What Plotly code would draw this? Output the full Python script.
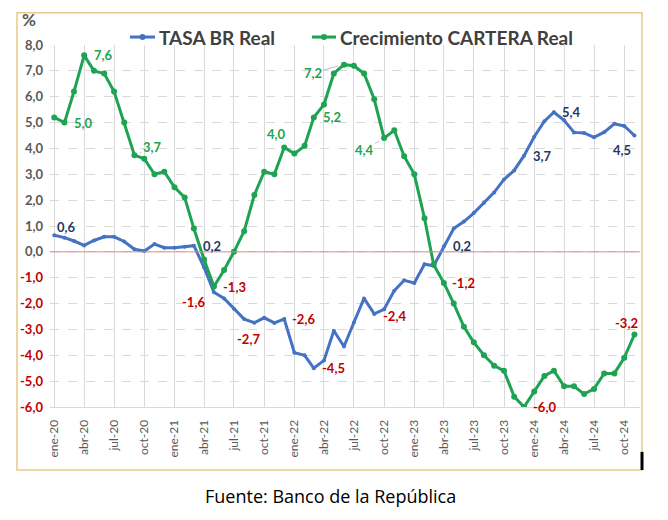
import pandas as pd
import plotly.graph_objects as go

# Datos mensuales ene-20 a nov-24
meses = pd.date_range("2020-01-01", periods=59, freq="MS")

tasa_br_real = [
    0.64, 0.55, 0.42, 0.25, 0.44, 0.58, 0.58, 0.40, 0.10, 0.03, 0.30, 0.16,
    0.16, 0.20, 0.24, -0.60, -1.56, -1.80, -2.20, -2.60, -2.74, -2.55, -2.75, -2.60,
    -3.90, -4.00, -4.50, -4.20, -3.05, -3.66, -2.73, -1.80, -2.40, -2.22, -1.50, -1.10,
    -1.20, -0.48, -0.54, 0.22, 0.90, 1.17, 1.50, 1.90, 2.30, 2.80, 3.15, 3.72,
    4.45, 5.05, 5.40, 5.09, 4.62, 4.60, 4.43, 4.63, 4.95, 4.87, 4.50,
]

cartera_real = [
    5.2, 5.0, 6.2, 7.6, 7.0, 6.9, 6.2, 5.0, 3.74, 3.6, 3.0, 3.1,
    2.5, 2.1, 0.9, -0.3, -1.34, -0.7, 0.0, 0.8, 2.2, 3.1, 3.0, 4.04,
    3.8, 4.1, 5.2, 5.7, 6.9, 7.24, 7.2, 6.9, 5.9, 4.4, 4.7, 3.7,
    3.0, 1.3, -0.5, -1.2, -2.0, -2.9, -3.5, -4.0, -4.4, -4.6, -5.6, -6.0,
    -5.4, -4.8, -4.6, -5.2, -5.2, -5.5, -5.3, -4.7, -4.7, -4.1, -3.2,
]

series_nombres = ["TASA BR Real", "Crecimiento CARTERA Real"]

nombres_mes = ["ene", "feb", "mar", "abr", "may", "jun", "jul", "ago", "sep", "oct", "nov", "dic"]
tick_fechas = meses[::3]
tick_textos = [f"{nombres_mes[d.month - 1]}-{d.strftime('%y')}" for d in tick_fechas]

y_ticks = list(range(-6, 9))

# etiquetas de datos: (indice, dx, dy, con linea guia)
etiquetas_br = [(0, 12, 8, False), (14, 18, 0, False), (16, -20, -10, False), (20, -6, -16, False),
                (23, 19, 0, False), (26, 20, 0, False), (32, 20, -2, False), (39, 18, 0, False),
                (47, 18, 0, False), (50, 18, 0, False), (58, -12, -14, False)]
etiquetas_cartera = [(1, 19, 0, False), (3, 19, 0, False), (8, 18, -8, True), (16, 21, 0, False),
                     (23, -8, 13, False), (26, 18, 0, False), (29, -31, 8, True), (33, -20, 12, True),
                     (39, 20, 0, False), (47, 20, 0, False), (58, -8, 12, False)]

AZUL = "#4472C4"
VERDE = "#1DA352"
ROJO = "#C00000"
NAVY = "#1F3864"
GRIS = "#595959"


def fmt(v):
    return f"{v:.1f}".replace(".", ",")


fig = go.Figure()

fig.add_trace(go.Scatter(
    x=meses, y=tasa_br_real, mode="lines+markers", name=series_nombres[0],
    line=dict(color=AZUL, width=3), marker=dict(size=4, color=AZUL)
))
fig.add_trace(go.Scatter(
    x=meses, y=cartera_real, mode="lines+markers", name=series_nombres[1],
    line=dict(color=VERDE, width=3), marker=dict(size=6, color=VERDE)
))

anotaciones = []
for serie, etiquetas, color_pos in [(tasa_br_real, etiquetas_br, NAVY), (cartera_real, etiquetas_cartera, VERDE)]:
    for idx, dx, dy, guia in etiquetas:
        v = serie[idx]
        color = ROJO if v < 0 else color_pos
        a = dict(x=meses[idx], y=v, text=fmt(v),
                 font=dict(family="Lato", size=13, color=color, weight="bold"))
        if guia:
            a.update(showarrow=True, ax=dx, ay=dy, arrowhead=0, arrowwidth=1,
                     arrowcolor="#BFBFBF", standoff=6)
        else:
            a.update(showarrow=False, xshift=dx, yshift=dy)
        anotaciones.append(a)

# leyenda hecha a mano (arriba del grafico)
leyenda_x = [(0.1356, 0.178, 0.181), (0.444, 0.4847, 0.488)]
leyenda_y = 1.022
formas = []
for nombre, color, (x0, x1, xt) in zip(series_nombres, [AZUL, VERDE], leyenda_x):
    formas.append(dict(type="line", xref="paper", yref="paper", x0=x0, x1=x1, y0=leyenda_y, y1=leyenda_y,
                       line=dict(color=color, width=3)))
    formas.append(dict(type="circle", xref="paper", yref="paper", xsizemode="pixel", ysizemode="pixel",
                       xanchor=(x0 + x1) / 2, yanchor=leyenda_y, x0=-3, x1=3, y0=-3, y1=3,
                       fillcolor=color, line=dict(width=0)))
    anotaciones.append(dict(xref="paper", yref="paper", x=xt, y=leyenda_y, text=nombre, showarrow=False,
                            xanchor="left", yanchor="middle",
                            font=dict(family="Lato", size=19, color="#404040", weight="bold")))

anotaciones.append(dict(xref="paper", yref="paper", x=-0.02, y=1.035, text="%", showarrow=False,
                        xanchor="right", yanchor="bottom",
                        font=dict(family="Lato", size=17, color=GRIS, weight="bold")))
anotaciones.append(dict(xref="paper", yref="paper", x=0.476, y=-0.285, text="Fuente: Banco de la República",
                        showarrow=False, font=dict(family="Open Sans", size=18, color="black")))

formas += [
    dict(type="rect", xref="paper", yref="paper", x0=-0.056, x1=1.0034, y0=-0.174, y1=1.089,
         line=dict(color="#E8C98C", width=1.5)),
    dict(type="line", xref="paper", yref="y", x0=0, x1=1, y0=0, y1=0,
         line=dict(color="#DA8A8A", width=1)),
    dict(type="line", xref="paper", yref="paper", x0=1.0034, x1=1.0034, y0=-0.124, y1=-0.174,
         line=dict(color="black", width=3)),
]

y_ticktext = [f"<span style='color:{ROJO if t < 0 else GRIS}'>{fmt(t)}</span>" for t in y_ticks]

fig.update_layout(
    width=668, height=520,
    margin=dict(l=42, r=36, t=37, b=121, autoexpand=False),
    paper_bgcolor="white", plot_bgcolor="white",
    font=dict(family="Lato", color=GRIS),
    annotations=anotaciones,
    showlegend=False,
    shapes=formas,
)

fig.update_xaxes(
    range=["2019-12-19", "2024-11-18"],
    tickvals=tick_fechas, ticktext=tick_textos, tickangle=-90,
    tickfont=dict(family="Lato", size=12, color=GRIS), ticklabelstandoff=7,
    showgrid=True, gridcolor="#D9D9D9", gridwidth=1,
    showline=True, linecolor="#D9D9D9", linewidth=1,
    zeroline=False, ticks="", automargin=False,
)
fig.update_yaxes(
    range=[-6, 8], tickvals=y_ticks, ticktext=y_ticktext,
    tickfont=dict(family="Lato", size=13, weight="bold"), ticklabelstandoff=6,
    showgrid=True, gridcolor="#D9D9D9", griddash="dash", gridwidth=1,
    zeroline=False, showline=False, ticks="", automargin=False,
)

fig.write_html("out.html")
